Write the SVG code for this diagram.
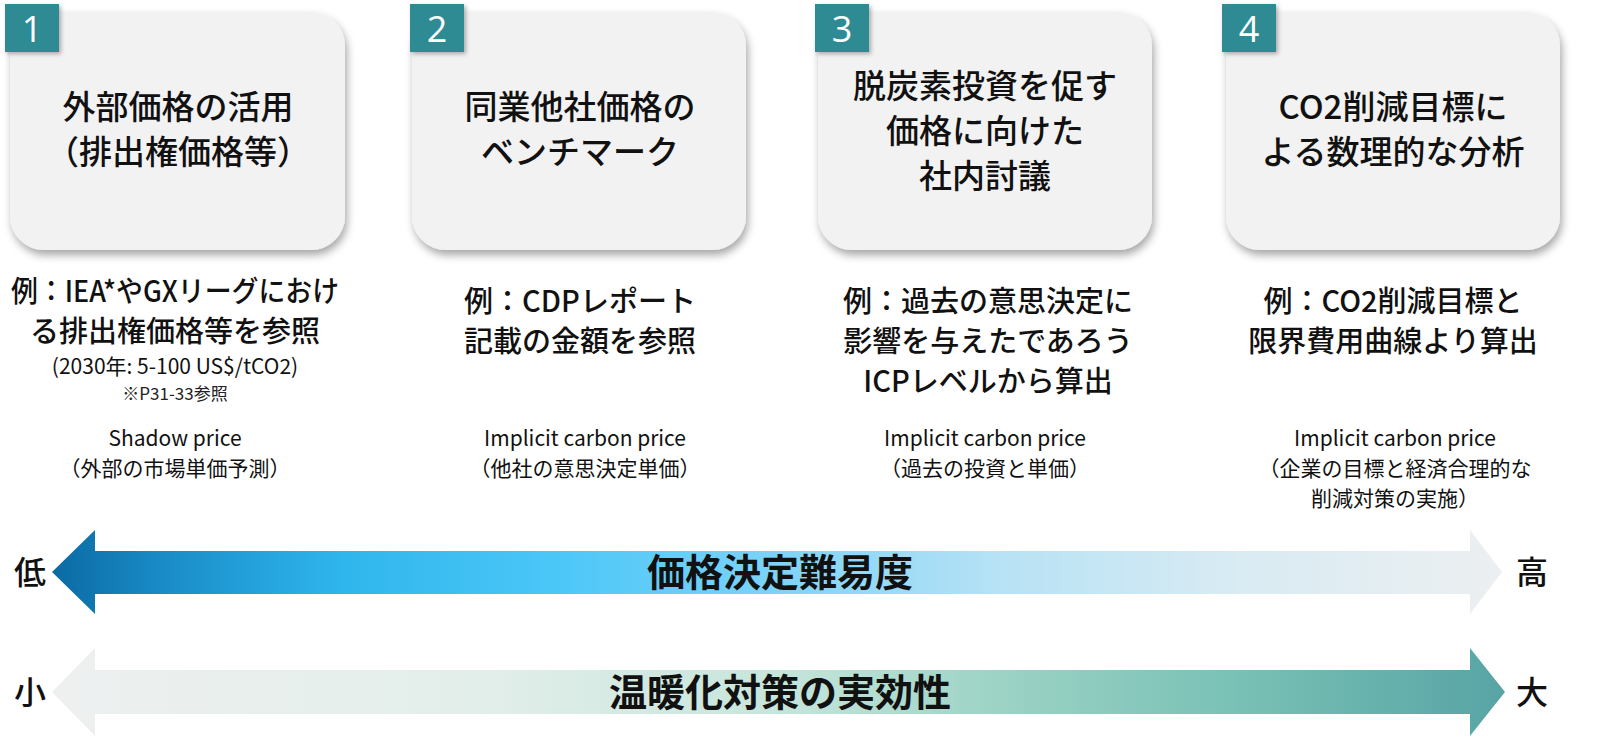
<svg xmlns="http://www.w3.org/2000/svg" width="1600" height="752" viewBox="0 0 1600 752">
  <defs>
    <filter id="shadow" x="-10%" y="-10%" width="125%" height="130%">
      <feDropShadow dx="2" dy="5" stdDeviation="4" flood-color="#000" flood-opacity="0.35"/>
    </filter>
    <filter id="bshadow" x="-20%" y="-20%" width="150%" height="150%">
      <feDropShadow dx="2" dy="2" stdDeviation="2" flood-color="#000" flood-opacity="0.3"/>
    </filter>
    <linearGradient id="g1" gradientUnits="userSpaceOnUse" x1="52" y1="0" x2="1502" y2="0">
      <stop offset="0" stop-color="#0b6aa3"/>
      <stop offset="0.08" stop-color="#1a8dc9"/>
      <stop offset="0.2" stop-color="#2fb6ec"/>
      <stop offset="0.35" stop-color="#4cc7f8"/>
      <stop offset="0.5" stop-color="#7dd3f8"/>
      <stop offset="0.65" stop-color="#b6e2f5"/>
      <stop offset="0.82" stop-color="#d9ebf3"/>
      <stop offset="1" stop-color="#eceff1"/>
    </linearGradient>
    <linearGradient id="g2" gradientUnits="userSpaceOnUse" x1="52" y1="0" x2="1505" y2="0">
      <stop offset="0" stop-color="#eef0f0"/>
      <stop offset="0.3" stop-color="#e2eeea"/>
      <stop offset="0.5" stop-color="#c6e5db"/>
      <stop offset="0.65" stop-color="#9cd3c5"/>
      <stop offset="0.82" stop-color="#78c0b5"/>
      <stop offset="1" stop-color="#58a4a5"/>
    </linearGradient>
  </defs>
  <style>
    .box { fill: #f2f2f2; filter: url(#shadow); }
    .badge { fill: #2f8a93; filter: url(#bshadow); }
    .num { font-family: "Segoe UI", "Open Sans", "Liberation Sans", sans-serif; font-size: 36px; fill: #ffffff; text-anchor: middle; }
    .title { font-family: "Noto Sans CJK JP", sans-serif; font-size: 33px; font-weight: 500; fill: #111; text-anchor: middle; }
    .ex { font-family: "Noto Sans CJK JP", sans-serif; font-size: 29px; font-weight: 500; fill: #111; text-anchor: middle; }
    .small { font-family: "Noto Sans CJK JP", sans-serif; font-size: 21px; font-weight: 400; fill: #111; text-anchor: middle; }
    .tiny { font-family: "Noto Sans CJK JP", sans-serif; font-size: 17px; font-weight: 400; fill: #222; text-anchor: middle; }
    .alabel { font-family: "Noto Sans CJK JP", sans-serif; font-size: 38px; font-weight: 700; fill: #111; text-anchor: middle; }
    .end { font-family: "Noto Sans CJK JP", sans-serif; font-size: 32px; font-weight: 500; fill: #111; text-anchor: middle; }
  </style>

  <g id="node1">
    <rect class="box" x="10" y="12" width="335" height="238" rx="34"/>
    <rect class="badge" x="5" y="4" width="54" height="48"/>
    <text class="num" x="32" y="42">1</text>
    <text class="title" x="178" y="119">外部価格の活用</text>
    <text class="title" x="178" y="164">（排出権価格等）</text>
    <text class="ex" x="175" y="302" textLength="328" lengthAdjust="spacingAndGlyphs">例：IEA*やGXリーグにおけ</text>
    <text class="ex" x="175" y="342">る排出権価格等を参照</text>
    <text class="small" x="175" y="374">(2030年: 5-100 US$/tCO2)</text>
    <text class="tiny" x="175" y="400">※P31-33参照</text>
    <text class="small" x="175" y="446">Shadow price</text>
    <text class="small" x="175" y="476">（外部の市場単価予測）</text>
  </g>

  <g id="node2">
    <rect class="box" x="412" y="12" width="334" height="238" rx="34"/>
    <rect class="badge" x="410" y="4" width="54" height="48"/>
    <text class="num" x="437" y="42">2</text>
    <text class="title" x="580" y="119">同業他社価格の</text>
    <text class="title" x="580" y="164">ベンチマーク</text>
    <text class="ex" x="580" y="312">例：CDPレポート</text>
    <text class="ex" x="580" y="352">記載の金額を参照</text>
    <text class="small" x="585" y="446">Implicit carbon price</text>
    <text class="small" x="585" y="476">（他社の意思決定単価）</text>
  </g>

  <g id="node3">
    <rect class="box" x="818" y="12" width="334" height="238" rx="34"/>
    <rect class="badge" x="815" y="4" width="54" height="48"/>
    <text class="num" x="842" y="42">3</text>
    <text class="title" x="985" y="98">脱炭素投資を促す</text>
    <text class="title" x="985" y="143">価格に向けた</text>
    <text class="title" x="985" y="188">社内討議</text>
    <text class="ex" x="988" y="312">例：過去の意思決定に</text>
    <text class="ex" x="988" y="352">影響を与えたであろう</text>
    <text class="ex" x="988" y="392">ICPレベルから算出</text>
    <text class="small" x="985" y="446">Implicit carbon price</text>
    <text class="small" x="985" y="476">（過去の投資と単価）</text>
  </g>

  <g id="node4">
    <rect class="box" x="1226" y="12" width="334" height="238" rx="34"/>
    <rect class="badge" x="1222" y="4" width="54" height="48"/>
    <text class="num" x="1249" y="42">4</text>
    <text class="title" x="1393" y="119">CO2削減目標に</text>
    <text class="title" x="1393" y="164">よる数理的な分析</text>
    <text class="ex" x="1393" y="312">例：CO2削減目標と</text>
    <text class="ex" x="1393" y="352">限界費用曲線より算出</text>
    <text class="small" x="1395" y="446">Implicit carbon price</text>
    <text class="small" x="1395" y="476">（企業の目標と経済合理的な</text>
    <text class="small" x="1395" y="506">削減対策の実施）</text>
  </g>

  <g id="connectors">
    <g id="arrow-difficulty">
      <polygon points="52,572 95,530 95,551 1470,551 1470,530 1502,572 1470,614 1470,594 95,594 95,614" fill="url(#g1)"/>
      <text class="alabel" x="780" y="586">価格決定難易度</text>
      <text class="end" x="30" y="584">低</text>
      <text class="end" x="1532" y="584">高</text>
    </g>
    <g id="arrow-effectiveness">
      <polygon points="52,692 95,648 95,670 1470,670 1470,648 1505,692 1470,736 1470,714 95,714 95,736" fill="url(#g2)"/>
      <text class="alabel" x="780" y="706">温暖化対策の実効性</text>
      <text class="end" x="30" y="704">小</text>
      <text class="end" x="1532" y="704">大</text>
    </g>
  </g>
</svg>
